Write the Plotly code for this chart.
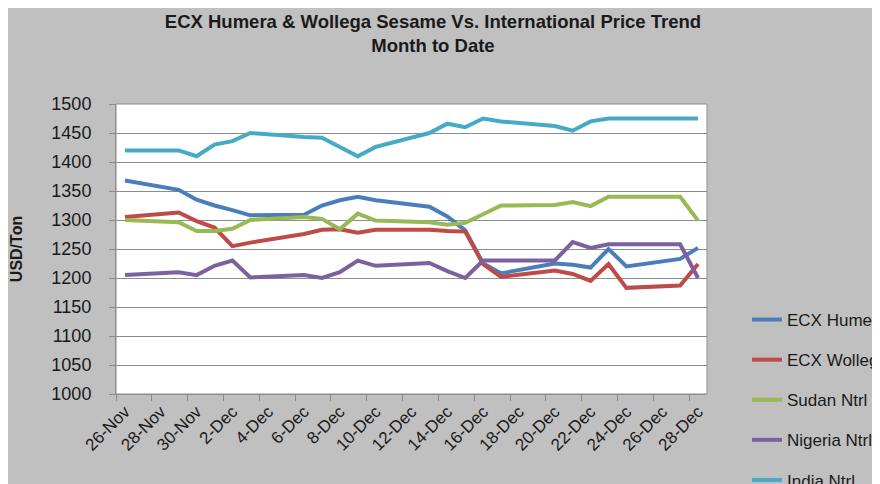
import plotly.graph_objects as go

dates = ["2010-11-26", "2010-11-29", "2010-11-30", "2010-12-01", "2010-12-02", "2010-12-03",
         "2010-12-06", "2010-12-07", "2010-12-08", "2010-12-09", "2010-12-10", "2010-12-13",
         "2010-12-14", "2010-12-15", "2010-12-16", "2010-12-17", "2010-12-20", "2010-12-21",
         "2010-12-22", "2010-12-23", "2010-12-24", "2010-12-27", "2010-12-28"]

ecx_humera = [1368, 1352, 1335, 1325, 1317, 1308, 1309, 1325, 1334, 1340, 1334, 1323,
              1306, 1282, 1225, 1208, 1225, 1223, 1218, 1250, 1220, 1233, 1252]
ecx_wollega = [1305, 1313, 1298, 1287, 1255, 1261, 1276, 1283, 1284, 1278, 1283, 1283,
               1281, 1280, 1224, 1202, 1213, 1207, 1195, 1224, 1183, 1187, 1224]
sudan_ntrl = [1300, 1296, 1281, 1281, 1285, 1300, 1305, 1302, 1284, 1311, 1299, 1296,
              1292, 1295, 1310, 1325, 1326, 1331, 1324, 1340, 1340, 1340, 1299]
nigeria_ntrl = [1205, 1210, 1205, 1221, 1230, 1201, 1205, 1200, 1210, 1230, 1221, 1226,
                1212, 1200, 1230, 1230, 1230, 1262, 1252, 1258, 1258, 1258, 1200]
india_ntrl = [1420, 1420, 1410, 1430, 1436, 1450, 1443, 1442, 1426, 1410, 1426, 1450,
              1466, 1460, 1475, 1470, 1462, 1454, 1470, 1475, 1475, 1475, 1475]

series_names = ["ECX Humera", "ECX Wollega", "Sudan Ntrl", "Nigeria Ntrl", "India Ntrl"]
series_values = [ecx_humera, ecx_wollega, sudan_ntrl, nigeria_ntrl, india_ntrl]
series_colors = ["#4A7EBB", "#BE4B48", "#98B954", "#7D60A0", "#46AAC5"]

tick_dates = ["2010-11-26", "2010-11-28", "2010-11-30", "2010-12-02", "2010-12-04", "2010-12-06",
              "2010-12-08", "2010-12-10", "2010-12-12", "2010-12-14", "2010-12-16", "2010-12-18",
              "2010-12-20", "2010-12-22", "2010-12-24", "2010-12-26", "2010-12-28"]
tick_labels = ["26-Nov", "28-Nov", "30-Nov", "2-Dec", "4-Dec", "6-Dec", "8-Dec", "10-Dec",
               "12-Dec", "14-Dec", "16-Dec", "18-Dec", "20-Dec", "22-Dec", "24-Dec", "26-Dec", "28-Dec"]

y_ticks = [1000, 1050, 1100, 1150, 1200, 1250, 1300, 1350, 1400, 1450, 1500]

fig = go.Figure()
for i, (name, vals, col) in enumerate(zip(series_names, series_values, series_colors)):
    fig.add_trace(go.Scatter(
        x=dates, y=vals, name=name, mode="lines",
        line=dict(color=col, width=4),
        legendgroup="g%d" % i,
    ))

W, H = 880, 484
L, R, T, B = 108, 181, 96, 98
pw, ph = W - L - R, H - T - B


def px_x(p):
    return (p - L) / pw


def px_y(p):
    return (H - B - p) / ph


FONT = "Liberation Sans"

fig.update_layout(
    width=W, height=H,
    margin=dict(l=L, r=R, t=T, b=B, autoexpand=False),
    paper_bgcolor="#C0C0C0",
    plot_bgcolor="white",
    title=dict(
        text="ECX Humera &amp; Wollega Sesame Vs. International Price Trend<br>Month to Date",
        x=425 / W, xanchor="center", xref="container",
        y=1 - 20 / H, yanchor="middle", yref="container",
        font=dict(family=FONT, size=18.5, color="#1a1a1a", weight="bold"),
    ),
    showlegend=True,
    legend=dict(
        x=px_x(739), xanchor="left", xref="paper",
        y=px_y(294), yanchor="top", yref="paper",
        font=dict(family=FONT, size=17, color="#1a1a1a"),
        bgcolor="rgba(0,0,0,0)",
        traceorder="grouped",
        tracegroupgap=15,
        itemwidth=30,
    ),
    shapes=[
        dict(type="rect", xref="paper", yref="paper", layer="below",
             x0=0, x1=1, y0=0, y1=1,
             fillcolor="rgba(0,0,0,0)", line=dict(color="#8C8C8C", width=1)),
    ],
)

fig.update_xaxes(
    type="date",
    range=["2010-11-25 12:00", "2010-12-28 12:00"],
    tickmode="array", tickvals=tick_dates, ticktext=tick_labels,
    tickangle=-45,
    ticks="", ticklen=0,
    tickfont=dict(family=FONT, size=17, color="#1a1a1a"),
    showgrid=False,
    showline=True, linecolor="#8C8C8C", linewidth=1,
    minor=dict(ticks="outside", ticklen=6, tickcolor="#8C8C8C",
               tick0="2010-11-25 12:00", dtick=2 * 86400000, showgrid=False),
    zeroline=False,
)

fig.update_yaxes(
    range=[1000, 1500],
    tickmode="array", tickvals=y_ticks,
    ticks="outside", ticklen=6, tickcolor="#8C8C8C",
    tickfont=dict(family=FONT, size=18, color="#1a1a1a"),
    ticklabelstandoff=14,
    showgrid=True, gridcolor="#8C8C8C", gridwidth=1,
    showline=True, linecolor="#8C8C8C", linewidth=1,
    zeroline=False,
    title=dict(text="USD/Ton", standoff=49,
               font=dict(family=FONT, size=16, color="#1a1a1a", weight="bold")),
)

fig.write_html("out.html")
